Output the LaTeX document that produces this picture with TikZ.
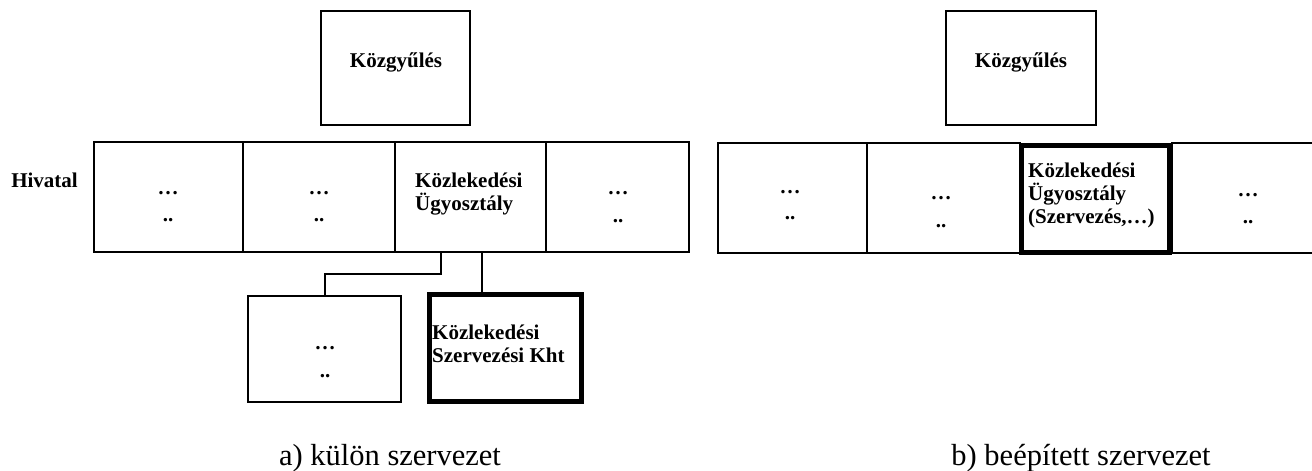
\documentclass[tikz,border=0pt]{standalone}
\usepackage{fontspec}
\setmainfont{Liberation Serif}
\usetikzlibrary{calc}
\begin{document}
\begin{tikzpicture}[x=1pt,y=-1pt,
  cell/.style={draw, line width=2pt, inner sep=0pt, minimum height=110pt},
  box/.style={draw, line width=2pt, inner sep=0pt},
  heavybox/.style={draw, line width=5pt, inner sep=0pt},
  lbl/.style={font=\fontsize{21}{23}\selectfont\bfseries, inner sep=0pt, align=left},
  dotline/.style={font=\fontsize{21}{23}\selectfont\bfseries, inner sep=0pt, anchor=base},
  caption/.style={font=\fontsize{30.5}{36}\selectfont, inner sep=0pt, anchor=base},
  conn/.style={line width=2pt}]
\useasboundingbox (0,0) rectangle (1312,471);

% ---------- a) separate organisation ----------
\node[box, minimum width=149pt, minimum height=114pt] (kgyA) at (395.5,68) {};
\node[dotline] (kgyAt) at (396,67) {Közgyűlés};

\node[lbl, anchor=base] (hiv) at (44.5,187) {Hivatal};

\node[cell, minimum width=149pt] (A1) at (168.5,197) {};
\node[cell, minimum width=152pt] (A2) at (319,197) {};
\node[cell, minimum width=151pt] (A3) at (470.5,197) {};
\node[cell, minimum width=143pt] (A4) at (617.5,197) {};

\node[dotline] (A1d) at (168,194.5) {…};
\node[dotline] (A1e) at (168,221.5) {..};
\node[dotline] (A2d) at (319,194.5) {…};
\node[dotline] (A2e) at (319,221.5) {..};
% base anchor of a multi-line label sits on its last line
\node[lbl, anchor=base west] (A3t) at (415,210) {Közlekedési\\Ügyosztály};
\node[dotline] (A4d) at (618,194.5) {…};
\node[dotline] (A4e) at (618,222.5) {..};

\node[box, minimum width=153pt, minimum height=106pt] (B1) at (324.5,349) {};
\node[dotline] (B1d) at (325,349.5) {…};
\node[dotline] (B1e) at (325,377.5) {..};

\node[heavybox, minimum width=152pt, minimum height=107pt] (B2) at (505.5,348) {};
\node[lbl, anchor=base west] (B2t) at (432,362) {Közlekedési\\Szervezési Kht};

% connectors from the department to the two units below
\coordinate (c1) at ($(A3.south west)+(47,0)$);
\coordinate (c2) at ($(A3.south west)+(88,0)$);
\draw[conn] (c1) -- ++(0,21) -| (B1.north);
\draw[conn] (c2) -- (c2 |- B2.north);

\node[caption] (capA) at (390,465) {a) külön szervezet};

% ---------- b) built-in organisation ----------
\node[box, minimum width=150pt, minimum height=114pt] (kgyB) at (1021,68) {};
\node[dotline] (kgyBt) at (1021,67) {Közgyűlés};

\node[cell, minimum width=149pt] (C1) at (792.5,198) {};
\node[cell, minimum width=153pt] (C2) at (943.5,198) {};
\node[cell, minimum width=144pt] (C4) at (1244,198) {};
\node[heavybox, minimum width=148pt, minimum height=107pt] (C3) at (1095.5,199) {};

\node[dotline] (C1d) at (790,193.5) {…};
\node[dotline] (C1e) at (790,219.5) {..};
\node[dotline] (C2d) at (941,199.5) {…};
\node[dotline] (C2e) at (941,227.5) {..};
\node[lbl, anchor=base west] (C3t) at (1028,223) {Közlekedési\\Ügyosztály\\(Szervezés,…)};
\node[dotline] (C4d) at (1248,196.5) {…};
\node[dotline] (C4e) at (1248,223.5) {..};

\node[caption] (capB) at (1081,465) {b) beépített szervezet};
\end{tikzpicture}
\end{document}
